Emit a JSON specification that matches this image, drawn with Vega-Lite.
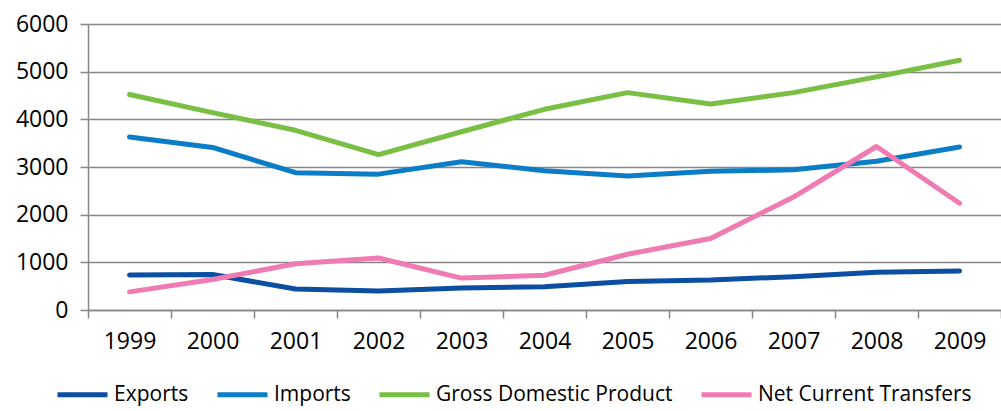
{
  "$schema": "https://vega.github.io/schema/vega-lite/v6.json",
  "width": 913,
  "height": 286,
  "autosize": {"type": "none"},
  "padding": {"left": 88, "top": 24, "right": 0, "bottom": 101},
  "background": "white",
  "data": {"values": [
    {"year": "1999", "series": "Exports", "value": 735},
    {"year": "2000", "series": "Exports", "value": 745},
    {"year": "2001", "series": "Exports", "value": 440},
    {"year": "2002", "series": "Exports", "value": 400},
    {"year": "2003", "series": "Exports", "value": 460},
    {"year": "2004", "series": "Exports", "value": 490},
    {"year": "2005", "series": "Exports", "value": 600},
    {"year": "2006", "series": "Exports", "value": 630},
    {"year": "2007", "series": "Exports", "value": 700},
    {"year": "2008", "series": "Exports", "value": 790},
    {"year": "2009", "series": "Exports", "value": 820},
    {"year": "1999", "series": "Imports", "value": 3630},
    {"year": "2000", "series": "Imports", "value": 3410},
    {"year": "2001", "series": "Imports", "value": 2880},
    {"year": "2002", "series": "Imports", "value": 2850},
    {"year": "2003", "series": "Imports", "value": 3110},
    {"year": "2004", "series": "Imports", "value": 2920},
    {"year": "2005", "series": "Imports", "value": 2810},
    {"year": "2006", "series": "Imports", "value": 2910},
    {"year": "2007", "series": "Imports", "value": 2940},
    {"year": "2008", "series": "Imports", "value": 3120},
    {"year": "2009", "series": "Imports", "value": 3420},
    {"year": "1999", "series": "Gross Domestic Product", "value": 4520},
    {"year": "2000", "series": "Gross Domestic Product", "value": 4140},
    {"year": "2001", "series": "Gross Domestic Product", "value": 3770},
    {"year": "2002", "series": "Gross Domestic Product", "value": 3260},
    {"year": "2003", "series": "Gross Domestic Product", "value": 3740},
    {"year": "2004", "series": "Gross Domestic Product", "value": 4210},
    {"year": "2005", "series": "Gross Domestic Product", "value": 4560},
    {"year": "2006", "series": "Gross Domestic Product", "value": 4320},
    {"year": "2007", "series": "Gross Domestic Product", "value": 4560},
    {"year": "2008", "series": "Gross Domestic Product", "value": 4890},
    {"year": "2009", "series": "Gross Domestic Product", "value": 5240},
    {"year": "1999", "series": "Net Current Transfers", "value": 380},
    {"year": "2000", "series": "Net Current Transfers", "value": 640},
    {"year": "2001", "series": "Net Current Transfers", "value": 970},
    {"year": "2002", "series": "Net Current Transfers", "value": 1090},
    {"year": "2003", "series": "Net Current Transfers", "value": 670},
    {"year": "2004", "series": "Net Current Transfers", "value": 730},
    {"year": "2005", "series": "Net Current Transfers", "value": 1170},
    {"year": "2006", "series": "Net Current Transfers", "value": 1500},
    {"year": "2007", "series": "Net Current Transfers", "value": 2370},
    {"year": "2008", "series": "Net Current Transfers", "value": 3430},
    {"year": "2009", "series": "Net Current Transfers", "value": 2240}
  ]},
  "mark": {"type": "line", "strokeWidth": 5, "strokeCap": "round", "strokeJoin": "round"},
  "encoding": {
    "x": {
      "field": "year", "type": "ordinal",
      "scale": {"type": "band", "paddingInner": 0, "paddingOuter": 0},
      "axis": {
        "title": null, "labelAngle": 0, "tickBand": "extent",
        "labelFont": "Open Sans", "labelFontSize": 23, "labelColor": "#000000",
        "labelPadding": 12, "tickSize": 8, "tickColor": "#868686", "tickWidth": 1.5,
        "domainColor": "#868686", "domainWidth": 1.5, "grid": false
      }
    },
    "y": {
      "field": "value", "type": "quantitative",
      "scale": {"domain": [0, 6000], "nice": false},
      "axis": {
        "title": null, "values": [0, 1000, 2000, 3000, 4000, 5000, 6000], "format": "d",
        "labelFont": "Open Sans", "labelFontSize": 23, "labelColor": "#000000",
        "labelPadding": 12, "tickSize": 8, "tickColor": "#868686", "tickWidth": 1.5,
        "domainColor": "#868686", "domainWidth": 1.5,
        "grid": true, "gridColor": "#868686", "gridWidth": 1.5
      }
    },
    "color": {
      "field": "series", "type": "nominal",
      "scale": {
        "domain": ["Exports", "Imports", "Gross Domestic Product", "Net Current Transfers"],
        "range": ["#0B4EA2", "#0A7DC6", "#79BF43", "#EF7BB2"]
      },
      "legend": {
        "title": null, "orient": "none", "direction": "horizontal",
        "legendX": -33, "legendY": 343,
        "symbolType": "stroke", "symbolSize": 2500, "symbolStrokeWidth": 5,
        "labelFont": "Open Sans", "labelFontSize": 21, "labelColor": "#000000",
        "columnPadding": 18, "labelOffset": 4, "labelLimit": 400
      }
    }
  },
  "config": {"view": {"stroke": null}}
}
